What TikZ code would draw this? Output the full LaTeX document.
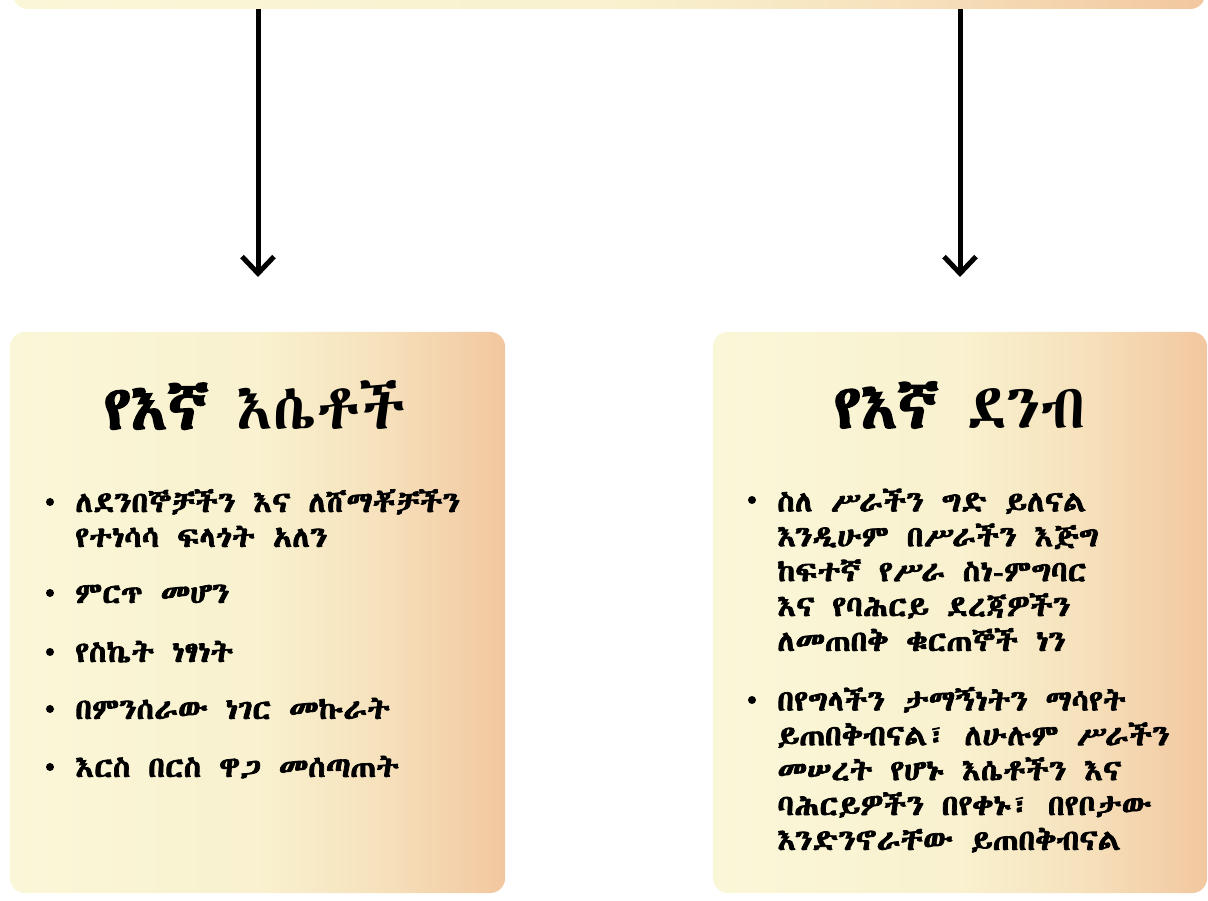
\documentclass[tikz,border=0pt]{standalone}
\usepackage{fontspec}
\newfontfamily\ethfont[AutoFakeBold=2.5]{Abyssinica SIL}
\newfontfamily\ethbody[AutoFakeBold=2.5, FakeStretch=1.1, WordSpace=1.25]{Abyssinica SIL}
\usetikzlibrary{arrows.meta}
\definecolor{fadeA}{HTML}{FAF7D8}
\definecolor{fadeB}{HTML}{F9F1CF}
\definecolor{fadeC}{HTML}{F6E2BD}
\definecolor{fadeD}{HTML}{F2C79F}
\pgfdeclarehorizontalshading{boxfade}{100bp}{color(0bp)=(fadeA); color(25bp)=(fadeA);
  color(50bp)=(fadeB); color(62bp)=(fadeC); color(75bp)=(fadeD); color(100bp)=(fadeD)}
\begin{document}
\begin{tikzpicture}[x=0.025cm, y=0.025cm,
    panel/.style={rectangle, rounded corners=0.375cm, shading=boxfade, inner sep=0pt},
    flow/.style={line width=0.125cm, -{Straight Barb[length=0.42cm, width=0.8cm]}},
    heading/.style={font=\ethfont\fontsize{44}{50}\selectfont, inner sep=0pt},
    item/.style={font=\ethbody\bfseries\fontsize{20.5}{24.8}\selectfont, align=left, anchor=base west, inner sep=0pt},
    dot/.style={circle, fill=black, minimum size=0.2cm, inner sep=0pt}]
        \useasboundingbox (0,0) rectangle (1208,900);

        \node[panel, minimum width=29.8cm, minimum height=1.25cm] (top) at (609, 916) {};
        \node[panel, minimum width=12.375cm, minimum height=14.025cm] (values) at (257.5, 287.5) {};
        \node[panel, minimum width=12.35cm, minimum height=14.025cm] (rules) at (960, 287.5) {};

        \coordinate (valuesin) at (258, 623);
        \coordinate (rulesin) at (960, 623);
        \draw[flow] (top.south -| valuesin) -- (valuesin);
        \draw[flow] (top.south -| rulesin) -- (rulesin);

        \node[heading] (valuestitle) at (255, 495) {\bfseries የእኛ \mdseries እሴቶች};
        \node[heading] (rulestitle) at (960, 495) {\bfseries የእኛ \mdseries ደንብ};

        % base anchor sits on the last line
        \node[item] (v1) at (75, 353) {ለደንበኞቻችን እና ለሸማቾቻችን\\የተነሳሳ ፍላጎት አለን};
        \node[item] (v2) at (75, 297) {ምርጥ መሆን};
        \node[item] (v3) at (75, 238) {የስኬት ነፃነት};
        \node[item] (v4) at (75, 181) {በምንሰራው ነገር መኩራት};
        \node[item] (v5) at (75, 123) {እርስ በርስ ዋጋ መሰጣጠት};
        \foreach \y in {398, 307, 248, 191, 133}
            \node[dot] at (50, \y) {};

        \node[item] (r1) at (777, 249) {ስለ ሥራችን ግድ ይለናል\\እንዲሁም በሥራችን እጅግ\\ከፍተኛ የሥራ ስነ-ምግባር\\እና የባሕርይ ደረጃዎችን\\ለመጠበቅ ቁርጠኞች ነን};
        \node[item] (r2) at (777, 50) {በየግላችን ታማኝነትን ማሳየት\\ይጠበቅብናል፣ ለሁሉም ሥራችን\\መሠረት የሆኑ እሴቶችን እና\\ባሕርይዎችን በየቀኑ፣ በየቦታው\\እንድንኖራቸው ይጠበቅብናል};
        \foreach \y in {400, 200}
            \node[dot] at (752, \y) {};
\end{tikzpicture}
\end{document}
